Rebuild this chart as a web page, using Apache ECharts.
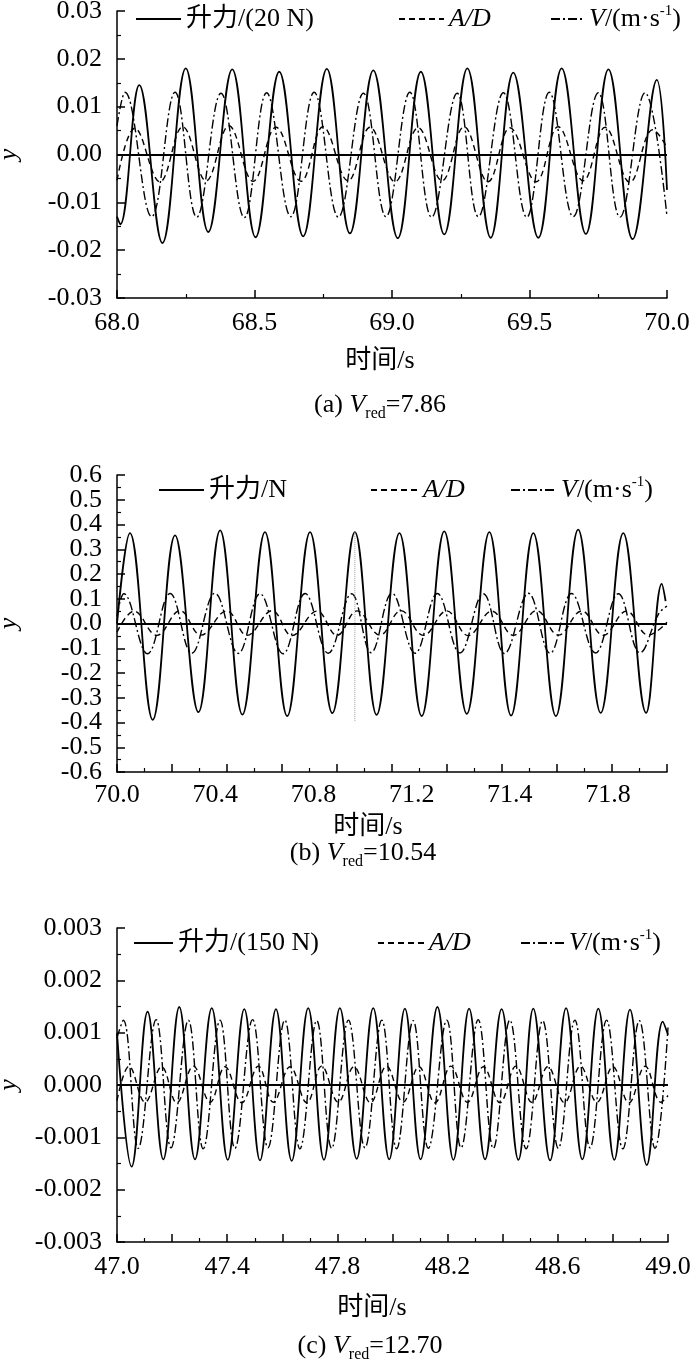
<!DOCTYPE html>
<html>
<head>
<meta charset="utf-8">
<title>升力、A/D 与 V 时程曲线</title>
<script src="https://cdn.jsdelivr.net/npm/echarts@6/dist/echarts.min.js"></script>
<style>
  html, body { margin: 0; padding: 0; background: #fff; }
  #chart { width: 700px; height: 1361px; }
</style>
</head>
<body>
<div id="chart"></div>
<script>
// ---- (a) Vred = 7.86 ----
const xTicksA = ['68.0', '68.5', '69.0', '69.5', '70.0'];
const yTicksA = ['-0.03', '-0.02', '-0.01', '0.00', '0.01', '0.02', '0.03'];
const liftA = [
  [68.000, -0.0130], [68.012, -0.0146], [68.081, 0.0145], [68.165, -0.0185], [68.250, 0.0180],
  [68.332, -0.0162], [68.419, 0.0178], [68.504, -0.0173], [68.590, 0.0173], [68.677, -0.0171],
  [68.763, 0.0179], [68.847, -0.0165], [68.932, 0.0176], [69.021, -0.0175], [69.105, 0.0173],
  [69.190, -0.0167], [69.274, 0.0180], [69.359, -0.0174], [69.441, 0.0171], [69.532, -0.0174],
  [69.617, 0.0180], [69.705, -0.0166], [69.787, 0.0178], [69.875, -0.0177], [69.963, 0.0156],
  [70.000, -0.0074]
];
const adA = [
  [68.000, -0.0054], [68.065, 0.0055], [68.156, -0.0057], [68.239, 0.0058], [68.324, -0.0055],
  [68.407, 0.0060], [68.495, -0.0056], [68.578, 0.0057], [68.669, -0.0056], [68.749, 0.0058],
  [68.840, -0.0055], [68.920, 0.0057], [69.011, -0.0057], [69.095, 0.0056], [69.182, -0.0055],
  [69.262, 0.0058], [69.349, -0.0057], [69.429, 0.0056], [69.524, -0.0057], [69.604, 0.0058],
  [69.695, -0.0055], [69.775, 0.0057], [69.865, -0.0058], [69.949, 0.0052], [70.000, 0.0015]
];
const velA = [
  [68.000, 0.0060], [68.029, 0.0130], [68.126, -0.0130], [68.211, 0.0130], [68.290, -0.0131],
  [68.378, 0.0128], [68.463, -0.0132], [68.544, 0.0129], [68.632, -0.0130], [68.717, 0.0130],
  [68.805, -0.0131], [68.896, 0.0128], [68.978, -0.0130], [69.065, 0.0130], [69.144, -0.0131],
  [69.237, 0.0128], [69.314, -0.0130], [69.405, 0.0129], [69.490, -0.0131], [69.572, 0.0130],
  [69.659, -0.0130], [69.750, 0.0129], [69.829, -0.0131], [69.920, 0.0129], [70.000, -0.0130]
];

// ---- (b) Vred = 10.54 ----
// the printed time labels are unevenly numbered, so they sit on their own label axis
const xTicksB = ['70.0', '70.4', '70.8', '71.2', '71.4', '71.8'];
const labelSpanB = 5.6;
const yTicksB = ['-0.6', '-0.4', '-0.3', '-0.2', '-0.1', '0.0', '0.1', '0.2', '0.3', '0.4', '0.6'];
const yTicksB2 = ['-0.5', '0.5'];   // drawn on an overlay axis so they are not dropped
const liftB = [
  [70.000, 0.000], [70.047, 0.365], [70.130, -0.389], [70.211, 0.356], [70.296, -0.358],
  [70.375, 0.376], [70.456, -0.368], [70.538, 0.369], [70.619, -0.374], [70.702, 0.369],
  [70.783, -0.362], [70.865, 0.369], [70.944, -0.369], [71.027, 0.365], [71.108, -0.374],
  [71.190, 0.372], [71.272, -0.365], [71.354, 0.369], [71.433, -0.372], [71.514, 0.365],
  [71.596, -0.374], [71.677, 0.379], [71.759, -0.361], [71.841, 0.365], [71.924, -0.361],
  [71.981, 0.160], [71.995, 0.090]
];
const adB = [
  [70.000, -0.035], [70.062, 0.050], [70.145, -0.048], [70.229, 0.052], [70.305, -0.047],
  [70.399, 0.051], [70.473, -0.048], [70.564, 0.052], [70.636, -0.049], [70.727, 0.050],
  [70.800, -0.048], [70.873, 0.051], [70.956, -0.047], [71.033, 0.052], [71.114, -0.048],
  [71.199, 0.051], [71.277, -0.049], [71.363, 0.050], [71.441, -0.048], [71.526, 0.052],
  [71.605, -0.047], [71.690, 0.051], [71.768, -0.048], [71.853, 0.050], [71.932, -0.047],
  [72.000, 0.005]
];
const velB = [
  [70.000, 0.030], [70.025, 0.120], [70.111, -0.122], [70.193, 0.121], [70.272, -0.120],
  [70.356, 0.122], [70.441, -0.121], [70.520, 0.120], [70.604, -0.122], [70.684, 0.121],
  [70.768, -0.120], [70.853, 0.120], [70.924, -0.118], [71.000, 0.122], [71.084, -0.120],
  [71.165, 0.121], [71.247, -0.119], [71.332, 0.120], [71.409, -0.121], [71.496, 0.122],
  [71.575, -0.120], [71.653, 0.121], [71.740, -0.119], [71.823, 0.120], [71.902, -0.118],
  [71.970, 0.040], [72.000, 0.070]
];
// thin grey vertical trace left in the original plot
const traceB = [[70.865, 0.369], [70.865, -0.395]];

// ---- (c) Vred = 12.70 ----
const xTicksC = ['47.0', '47.4', '47.8', '48.2', '48.6', '49.0'];
const yTicksC = ['-0.003', '-0.002', '-0.001', '0.000', '0.001', '0.002', '0.003'];
const liftC = [
  [47.000, 0.00099], [47.053, -0.00156], [47.111, 0.00140], [47.168, -0.00142], [47.226, 0.00149],
  [47.283, -0.00142], [47.344, 0.00147], [47.402, -0.00143], [47.462, 0.00145], [47.519, -0.00144],
  [47.577, 0.00145], [47.634, -0.00145], [47.694, 0.00147], [47.751, -0.00143], [47.809, 0.00147],
  [47.870, -0.00141], [47.930, 0.00147], [47.988, -0.00142], [48.045, 0.00146], [48.102, -0.00142],
  [48.163, 0.00149], [48.221, -0.00143], [48.278, 0.00146], [48.336, -0.00142], [48.396, 0.00145],
  [48.457, -0.00143], [48.511, 0.00146], [48.572, -0.00144], [48.630, 0.00147], [48.689, -0.00142],
  [48.747, 0.00146], [48.805, -0.00143], [48.862, 0.00144], [48.923, -0.00153], [48.981, 0.00121],
  [49.000, 0.00096]
];
const adC = [
  [47.000, -0.00030], [47.044, 0.00036], [47.102, -0.00033], [47.162, 0.00035], [47.217, -0.00034],
  [47.277, 0.00036], [47.338, -0.00033], [47.392, 0.00035], [47.453, -0.00034], [47.513, 0.00036],
  [47.567, -0.00033], [47.628, 0.00035], [47.689, -0.00034], [47.743, 0.00036], [47.803, -0.00033],
  [47.860, 0.00035], [47.920, -0.00034], [47.978, 0.00036], [48.038, -0.00033], [48.096, 0.00035],
  [48.154, -0.00034], [48.212, 0.00036], [48.272, -0.00033], [48.330, 0.00035], [48.390, -0.00034],
  [48.448, 0.00036], [48.506, -0.00033], [48.564, 0.00035], [48.624, -0.00034], [48.682, 0.00036],
  [48.742, -0.00033], [48.800, 0.00035], [48.858, -0.00034], [48.917, 0.00036], [48.975, -0.00033],
  [49.000, -0.00020]
];
const velC = [
  [47.000, 0.00090], [47.023, 0.00124], [47.077, -0.00121], [47.142, 0.00125], [47.196, -0.00120],
  [47.259, 0.00124], [47.313, -0.00122], [47.374, 0.00124], [47.428, -0.00121], [47.492, 0.00125],
  [47.548, -0.00120], [47.609, 0.00124], [47.664, -0.00122], [47.725, 0.00123], [47.779, -0.00121],
  [47.840, 0.00124], [47.900, -0.00120], [47.961, 0.00124], [48.015, -0.00122], [48.075, 0.00123],
  [48.130, -0.00121], [48.197, 0.00124], [48.249, -0.00120], [48.311, 0.00125], [48.366, -0.00121],
  [48.426, 0.00124], [48.485, -0.00122], [48.545, 0.00123], [48.602, -0.00121], [48.662, 0.00124],
  [48.717, -0.00120], [48.777, 0.00124], [48.836, -0.00122], [48.896, 0.00123], [48.953, -0.00121],
  [49.000, 0.00110]
];

const liftNames = ['升力/(20 N)', '升力/N', '升力/(150 N)'];
const adName = 'A/D';
const velName = 'V/(m·s-1)';

const FONT = "'Liberation Serif', 'Times New Roman', 'Noto Sans CJK SC', serif";
const richStyles = {
  i: { fontFamily: FONT, fontSize: 26, fontStyle: 'italic', color: '#000' },
  sup: { fontFamily: FONT, fontSize: 15, color: '#000', verticalAlign: 'top', lineHeight: 15 },
  sub: { fontFamily: FONT, fontSize: 16, color: '#000', verticalAlign: 'bottom', lineHeight: 16 }
};

function legendText(name) {
  if (name === adName) return '{i|A/D}';
  if (name === velName) return '{i|V}/(m·s{sup|-1})';
  return name;
}

function pick(labels, v, digits) {
  const s = (Math.abs(v) < 1e-9 ? 0 : v).toFixed(digits);
  return labels.indexOf(s) >= 0 ? s : '';
}

const axisLineStyle = { color: '#000', width: 1.5 };
const labelStyle = { fontFamily: FONT, fontSize: 26, color: '#000', showMinLabel: true, showMaxLabel: true };

function timeAxis(gridIndex, min, max, interval, labels, margin) {
  return {
    gridIndex, type: 'value', min, max, interval,
    axisLine: { onZero: false, lineStyle: axisLineStyle },
    axisTick: { inside: true, length: 8, lineStyle: axisLineStyle },
    minorTick: { show: true, splitNumber: 2, length: 4, lineStyle: { color: '#000', width: 1.2 } },
    splitLine: { show: false },
    minorSplitLine: { show: false },
    axisLabel: labels
      ? Object.assign({ margin, formatter: v => pick(labels, v, 1) }, labelStyle)
      : { show: false }
  };
}

function valueAxis(gridIndex, min, max, interval, labels, digits) {
  return {
    gridIndex, type: 'value', min, max, interval,
    name: 'y', nameLocation: 'middle', nameGap: 95, nameRotate: 90,
    nameTextStyle: { fontFamily: FONT, fontSize: 26, fontStyle: 'italic', color: '#000' },
    axisLine: { onZero: false, lineStyle: axisLineStyle },
    axisTick: { inside: true, length: 8, lineStyle: axisLineStyle },
    minorTick: { show: true, splitNumber: 2, length: 4, lineStyle: { color: '#000', width: 1.2 } },
    splitLine: { show: false },
    minorSplitLine: { show: false },
    axisLabel: Object.assign({ margin: 15, lineHeight: 20, hideOverlap: false,
      formatter: v => pick(labels, v, digits) }, labelStyle)
  };
}

const lineKinds = {
  solid: { color: '#000', width: 1.8, type: 'solid' },
  dashed: { color: '#000', width: 1.4, type: [6, 4] },
  dashdot: { color: '#000', width: 1.4, type: [9, 3, 2, 3] }
};

function curve(name, data, xi, yi, kind, zeroLine) {
  const s = {
    name, type: 'line', data, xAxisIndex: xi, yAxisIndex: yi,
    smooth: 0.4, symbol: 'none', color: '#000',
    lineStyle: lineKinds[kind]
  };
  if (zeroLine) {
    s.markLine = {
      silent: true, symbol: ['none', 'none'], label: { show: false },
      lineStyle: { color: '#000', width: 1.8, type: 'solid' },
      data: [{ yAxis: 0 }]
    };
  }
  return s;
}

function legendAt(name, left, top, itemWidth) {
  return {
    data: [name], left, top, itemWidth, itemHeight: 14, padding: 0,
    selectedMode: false, formatter: legendText,
    itemStyle: { opacity: 0, borderWidth: 0 },
    textStyle: { fontFamily: FONT, fontSize: 26, color: '#000', lineHeight: 30, rich: richStyles }
  };
}

function textAt(text, left, top) {
  return {
    text, left, top, textAlign: 'center', padding: 0,
    textStyle: {
      fontFamily: FONT, fontSize: 26, fontWeight: 'normal', color: '#000', lineHeight: 34,
      rich: richStyles
    }
  };
}

const gridBase = { left: 117, containLabel: false, outerBoundsMode: 'none' };

const chart = echarts.init(document.getElementById('chart'));
chart.setOption({
  animation: false,
  backgroundColor: '#fff',
  grid: [
    Object.assign({ right: 33, top: 11, height: 287 }, gridBase),
    Object.assign({ right: 33, top: 475, height: 297 }, gridBase),
    Object.assign({ right: 32, top: 928, height: 314 }, gridBase)
  ],
  xAxis: [
    timeAxis(0, 68, 70, 0.5, xTicksA, 12),
    timeAxis(1, 70, 72, 0.2, null),
    {
      gridIndex: 1, type: 'value', min: 0, max: labelSpanB, interval: 1, position: 'bottom',
      axisLine: { show: false }, axisTick: { show: false }, splitLine: { show: false },
      axisLabel: Object.assign({
        margin: 10,
        formatter: v => (Math.abs(v - Math.round(v)) < 1e-6 && xTicksB[Math.round(v)]) || ''
      }, labelStyle)
    },
    timeAxis(2, 47, 49, 0.2, xTicksC, 12)
  ],
  yAxis: [
    valueAxis(0, -0.03, 0.03, 0.01, yTicksA, 2),
    valueAxis(1, -0.6, 0.6, 0.1, yTicksB, 1),
    valueAxis(2, -0.003, 0.003, 0.001, yTicksC, 3),
    {
      gridIndex: 1, type: 'value', min: -0.6, max: 0.6, interval: 0.1, position: 'left', offset: 0,
      axisLine: { show: false }, axisTick: { show: false }, splitLine: { show: false },
      axisLabel: {
        fontFamily: FONT, fontSize: 26, color: '#000', margin: 15, lineHeight: 20,
        showMinLabel: false, showMaxLabel: false, hideOverlap: false,
        formatter: v => pick(yTicksB2, v, 1)
      }
    }
  ],
  legend: [
    legendAt(liftNames[0], 135, 4, 45),
    legendAt(adName, 398, 4, 45),
    legendAt(velName, 550, 4, 33),
    legendAt(liftNames[1], 158, 475, 45),
    legendAt(adName, 370, 475, 47),
    legendAt(velName, 510, 475, 45),
    legendAt(liftNames[2], 133, 928, 39),
    legendAt(adName, 377, 928, 46),
    legendAt(velName, 520, 928, 43)
  ],
  title: [
    textAt('时间/s', 380, 344),
    textAt('(a) {i|V}{sub|red}=7.86', 380, 388),
    textAt('时间/s', 368, 810),
    textAt('(b) {i|V}{sub|red}=10.54', 363, 836),
    textAt('时间/s', 372, 1291),
    textAt('(c) {i|V}{sub|red}=12.70', 370, 1329)
  ],
  series: [
    curve(liftNames[0], liftA, 0, 0, 'solid', true),
    curve(adName, adA, 0, 0, 'dashed'),
    curve(velName, velA, 0, 0, 'dashdot'),
    curve(liftNames[1], liftB, 1, 1, 'solid', true),
    curve(adName, adB, 1, 1, 'dashed'),
    curve(velName, velB, 1, 1, 'dashdot'),
    {
      name: 'trace', type: 'line', data: traceB, xAxisIndex: 1, yAxisIndex: 1,
      symbol: 'none', lineStyle: { color: '#9a9a9a', width: 1, type: 'dotted' }
    },
    curve(liftNames[2], liftC, 3, 2, 'solid', true),
    curve(adName, adC, 3, 2, 'dashed'),
    curve(velName, velC, 3, 2, 'dashdot')
  ]
});
</script>
</body>
</html>
